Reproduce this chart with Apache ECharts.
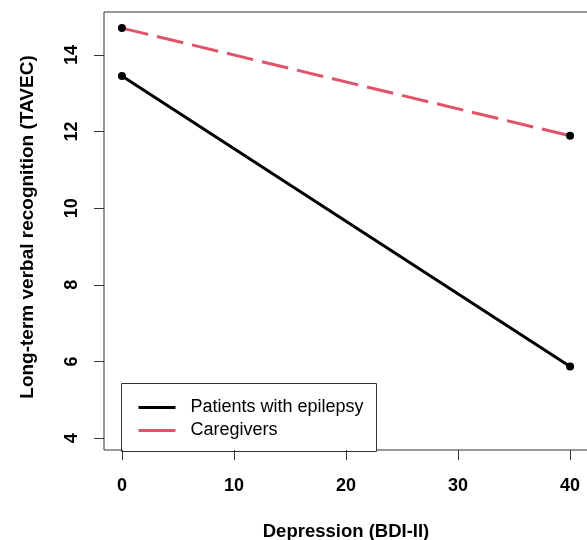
<!DOCTYPE html>
<html>
<head>
<meta charset="utf-8">
<script src="https://cdn.jsdelivr.net/npm/echarts@6/dist/echarts.min.js"></script>
<style>
  html, body { margin: 0; padding: 0; background: #fff; }
  #chart { width: 587px; height: 540px; }
</style>
</head>
<body>
<div id="chart"></div>
<script>
// depression score (BDI-II) at the two ends of each fitted line
var xValues = [0, 40];
var patients = [13.45, 5.87];
var caregivers = [14.70, 11.89];
var xTicks = [0, 10, 20, 30, 40];
var yTicks = [4, 6, 8, 10, 12, 14];
var seriesNames = ['Patients with epilepsy', 'Caregivers'];

function pairs(xs, ys) {
    return xs.map(function (x, i) { return [x, ys[i]]; });
}

var chart = echarts.init(document.getElementById('chart'));
var font = 'Liberation Sans, Arial, sans-serif';

option = {
    animation: false,
    grid: {
        left: 104,
        top: 12,
        width: 484,
        height: 438,
        outerBoundsMode: 'none',
        show: true,
        borderColor: '#333',
        borderWidth: 1,
        backgroundColor: 'transparent'
    },
    xAxis: {
        type: 'value',
        min: -1.6,
        max: 41.6,
        axisLine: { show: false, onZero: false },
        splitLine: { show: false },
        axisTick: { show: true, length: 10, lineStyle: { color: '#333' }, customValues: xTicks },
        axisLabel: {
            customValues: xTicks,
            margin: 27,
            color: '#000',
            fontFamily: font,
            fontWeight: 'bold',
            fontSize: 18
        },
        name: 'Depression (BDI-II)',
        nameLocation: 'middle',
        nameGap: 72,
        nameTextStyle: { color: '#000', fontFamily: font, fontWeight: 'bold', fontSize: 18.5 }
    },
    yAxis: {
        type: 'value',
        min: 3.69,
        max: 15.12,
        axisLine: { show: false, onZero: false },
        splitLine: { show: false },
        axisTick: { show: true, length: 10, lineStyle: { color: '#333' }, customValues: yTicks },
        axisLabel: {
            customValues: yTicks,
            rotate: 90,
            margin: 32,
            color: '#000',
            fontFamily: font,
            fontWeight: 'bold',
            fontSize: 18,
            align: 'center',
            verticalAlign: 'middle'
        },
        name: 'Long-term verbal recognition (TAVEC)',
        nameLocation: 'middle',
        nameGap: 67,
        nameTextStyle: { color: '#000', fontFamily: font, fontWeight: 'bold', fontSize: 19, padding: [0, 0, 0, 8] }
    },
    series: [
        {
            name: seriesNames[0],
            type: 'line',
            data: pairs(xValues, patients),
            lineStyle: { color: '#000', width: 3 },
            symbol: 'circle',
            symbolSize: 8,
            itemStyle: { color: '#000' },
            z: 3
        },
        {
            name: seriesNames[1],
            type: 'line',
            data: pairs(xValues, caregivers),
            lineStyle: { color: '#DF536B', width: 3, type: [27, 9] },
            symbol: 'circle',
            symbolSize: 8,
            itemStyle: { color: '#000' },
            z: 3
        }
    ],
    graphic: [
        {
            type: 'group',
            left: 121,
            top: 383,
            z: 100,
            children: [
                {
                    type: 'rect',
                    shape: { x: 0, y: 0, width: 255, height: 68 },
                    style: { fill: '#fff', stroke: '#333', lineWidth: 1 }
                },
                {
                    type: 'line',
                    shape: { x1: 17, y1: 24, x2: 54, y2: 24 },
                    style: { stroke: '#000', lineWidth: 3 }
                },
                {
                    type: 'line',
                    shape: { x1: 17, y1: 47, x2: 54, y2: 47 },
                    style: { stroke: '#DF536B', lineWidth: 3 }
                },
                {
                    type: 'text',
                    x: 69, y: 24,
                    style: { text: seriesNames[0], fill: '#000', font: '18px ' + font, verticalAlign: 'middle' }
                },
                {
                    type: 'text',
                    x: 69, y: 47,
                    style: { text: seriesNames[1], fill: '#000', font: '18px ' + font, verticalAlign: 'middle' }
                }
            ]
        }
    ]
};
chart.setOption(option);
</script>
</body>
</html>
